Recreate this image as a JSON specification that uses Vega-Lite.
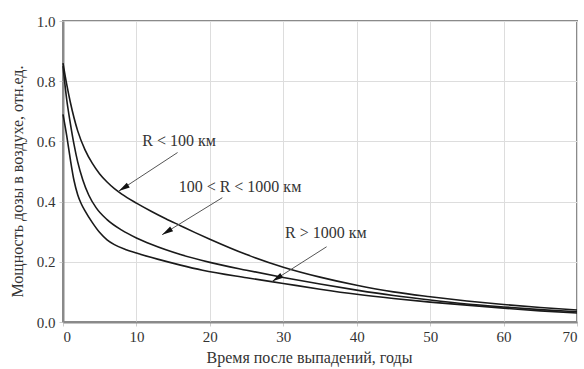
{
  "$schema": "https://vega.github.io/schema/vega-lite/v6.json",
  "width": 514,
  "height": 301,
  "autosize": "none",
  "padding": {"left": 63, "top": 21, "right": 7, "bottom": 47},
  "background": "white",
  "config": {
    "font": "Times New Roman, Liberation Serif, serif",
    "view": {"stroke": "#8a8a8a", "strokeWidth": 2},
    "axis": {
      "labelFont": "Times New Roman, Liberation Serif, serif",
      "titleFont": "Times New Roman, Liberation Serif, serif",
      "labelFontSize": 15,
      "titleFontSize": 16,
      "labelColor": "#333",
      "titleColor": "#333",
      "titleFontWeight": "normal",
      "gridColor": "#dddddd",
      "gridWidth": 1,
      "domainColor": "#8a8a8a",
      "domainWidth": 2,
      "tickColor": "#cccccc",
      "tickSize": 4
    }
  },
  "datasets": {
    "curves": [
      {"s": "a", "t": 0, "v": 0.86}, {"s": "a", "t": 0.5, "v": 0.79}, {"s": "a", "t": 1, "v": 0.73}, {"s": "a", "t": 2, "v": 0.635}, {"s": "a", "t": 3, "v": 0.572}, {"s": "a", "t": 4, "v": 0.527}, {"s": "a", "t": 5, "v": 0.492}, {"s": "a", "t": 6, "v": 0.465}, {"s": "a", "t": 7, "v": 0.443}, {"s": "a", "t": 8, "v": 0.425}, {"s": "a", "t": 10, "v": 0.395}, {"s": "a", "t": 12, "v": 0.368}, {"s": "a", "t": 14, "v": 0.343}, {"s": "a", "t": 16, "v": 0.32}, {"s": "a", "t": 18, "v": 0.297}, {"s": "a", "t": 20, "v": 0.275}, {"s": "a", "t": 25, "v": 0.224}, {"s": "a", "t": 30, "v": 0.182}, {"s": "a", "t": 35, "v": 0.149}, {"s": "a", "t": 40, "v": 0.122}, {"s": "a", "t": 45, "v": 0.1}, {"s": "a", "t": 50, "v": 0.084}, {"s": "a", "t": 55, "v": 0.07}, {"s": "a", "t": 60, "v": 0.058}, {"s": "a", "t": 65, "v": 0.048}, {"s": "a", "t": 70, "v": 0.04},
      {"s": "b", "t": 0, "v": 0.85}, {"s": "b", "t": 0.5, "v": 0.74}, {"s": "b", "t": 1, "v": 0.66}, {"s": "b", "t": 1.5, "v": 0.59}, {"s": "b", "t": 2, "v": 0.532}, {"s": "b", "t": 2.7, "v": 0.472}, {"s": "b", "t": 3.5, "v": 0.422}, {"s": "b", "t": 4.5, "v": 0.38}, {"s": "b", "t": 6, "v": 0.34}, {"s": "b", "t": 8, "v": 0.305}, {"s": "b", "t": 10, "v": 0.279}, {"s": "b", "t": 12, "v": 0.258}, {"s": "b", "t": 16, "v": 0.224}, {"s": "b", "t": 20, "v": 0.198}, {"s": "b", "t": 25, "v": 0.172}, {"s": "b", "t": 30, "v": 0.148}, {"s": "b", "t": 35, "v": 0.126}, {"s": "b", "t": 40, "v": 0.106}, {"s": "b", "t": 45, "v": 0.088}, {"s": "b", "t": 50, "v": 0.073}, {"s": "b", "t": 55, "v": 0.06}, {"s": "b", "t": 60, "v": 0.05}, {"s": "b", "t": 65, "v": 0.041}, {"s": "b", "t": 70, "v": 0.034},
      {"s": "c", "t": 0, "v": 0.69}, {"s": "c", "t": 0.5, "v": 0.62}, {"s": "c", "t": 1, "v": 0.54}, {"s": "c", "t": 1.5, "v": 0.47}, {"s": "c", "t": 2, "v": 0.423}, {"s": "c", "t": 2.5, "v": 0.392}, {"s": "c", "t": 3, "v": 0.369}, {"s": "c", "t": 4, "v": 0.33}, {"s": "c", "t": 5, "v": 0.297}, {"s": "c", "t": 6, "v": 0.273}, {"s": "c", "t": 7, "v": 0.257}, {"s": "c", "t": 8.5, "v": 0.241}, {"s": "c", "t": 10, "v": 0.229}, {"s": "c", "t": 13, "v": 0.208}, {"s": "c", "t": 16, "v": 0.189}, {"s": "c", "t": 19, "v": 0.172}, {"s": "c", "t": 25, "v": 0.147}, {"s": "c", "t": 30, "v": 0.128}, {"s": "c", "t": 35, "v": 0.109}, {"s": "c", "t": 40, "v": 0.092}, {"s": "c", "t": 45, "v": 0.078}, {"s": "c", "t": 50, "v": 0.066}, {"s": "c", "t": 55, "v": 0.056}, {"s": "c", "t": 60, "v": 0.046}, {"s": "c", "t": 65, "v": 0.037}, {"s": "c", "t": 70, "v": 0.03}
    ],
    "notes": [
      {"label": "R < 100 км", "tx": 15.8, "ty": 0.6, "x1": 15.6, "y1": 0.563, "x2": 7.6, "y2": 0.435},
      {"label": "100 < R < 1000 км", "tx": 24.1, "ty": 0.45, "x1": 21.7, "y1": 0.413, "x2": 13.5, "y2": 0.29},
      {"label": "R > 1000 км", "tx": 35.8, "ty": 0.297, "x1": 35.9, "y1": 0.25, "x2": 28.5, "y2": 0.135}
    ]
  },
  "layer": [
    {
      "data": {"name": "curves"},
      "mark": {"type": "line", "interpolate": "monotone", "color": "#1a1a1a", "strokeWidth": 1.6},
      "encoding": {
        "x": {"field": "t", "type": "quantitative", "scale": {"domain": [0, 70], "nice": false},
              "axis": {"values": [0, 10, 20, 30, 40, 50, 60, 70], "title": "Время после выпадений, годы", "labelPadding": 3, "titlePadding": 5, "titleX": 246}},
        "y": {"field": "v", "type": "quantitative", "scale": {"domain": [0, 1], "nice": false},
              "axis": {"values": [0, 0.2, 0.4, 0.6, 0.8, 1.0], "format": ".1f", "title": "Мощность дозы в воздухе, отн.ед.", "labelPadding": 4, "titlePadding": 11, "titleY": 160}},
        "detail": {"field": "s"}
      }
    },
    {
      "data": {"name": "notes"},
      "mark": {"type": "rule", "color": "#555", "strokeWidth": 1},
      "encoding": {
        "x": {"field": "x1", "type": "quantitative"},
        "y": {"field": "y1", "type": "quantitative"},
        "x2": {"field": "x2"},
        "y2": {"field": "y2"}
      }
    },
    {
      "data": {"name": "notes"},
      "mark": {"type": "point", "shape": "M0,0L0.25,1L-0.25,1Z", "filled": true, "color": "#111", "opacity": 1, "size": 500, "angle": 238},
      "encoding": {
        "x": {"field": "x2", "type": "quantitative"},
        "y": {"field": "y2", "type": "quantitative"}
      }
    },
    {
      "data": {"name": "notes"},
      "mark": {"type": "text", "font": "Times New Roman, Liberation Serif, serif", "fontSize": 16, "color": "#333", "align": "center", "baseline": "middle"},
      "encoding": {
        "x": {"field": "tx", "type": "quantitative"},
        "y": {"field": "ty", "type": "quantitative"},
        "text": {"field": "label"}
      }
    }
  ]
}
